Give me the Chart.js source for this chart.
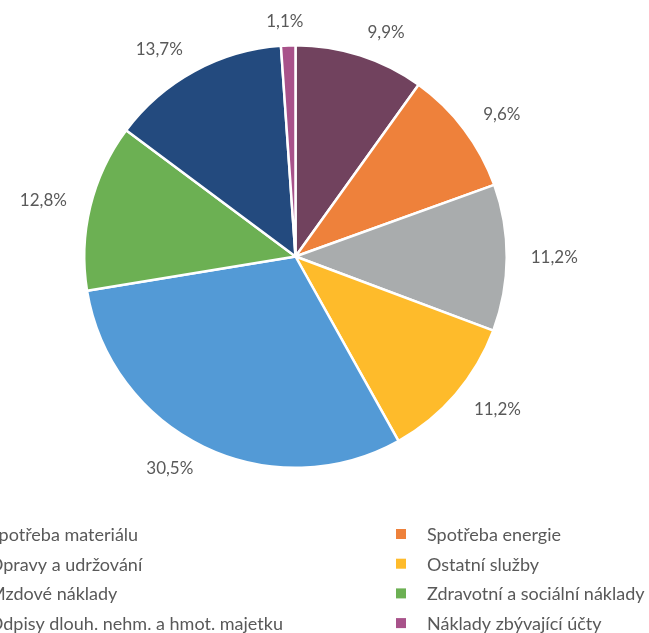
<!DOCTYPE html>
<html>
<head>
<meta charset="utf-8">
<script src="https://cdn.jsdelivr.net/npm/chart.js@4/dist/chart.umd.min.js"></script>
<style>
  html, body { margin: 0; padding: 0; background: #ffffff; overflow: hidden; }
  #wrap { position: absolute; left: 0; top: 0; width: 649px; height: 633px; }
</style>
</head>
<body>
<div id="wrap"><canvas id="c" width="649" height="633"></canvas></div>
<script>
const categories = [
  "Spotřeba materiálu",
  "Spotřeba energie",
  "Opravy a udržování",
  "Ostatní služby",
  "Mzdové náklady",
  "Zdravotní a sociální náklady",
  "Odpisy dlouh. nehm. a hmot. majetku",
  "Náklady zbývající účty"
];
const shares = [9.9, 9.6, 11.2, 11.2, 30.5, 12.8, 13.7, 1.1];
const sliceColors = ["#71425E", "#EE813B", "#A9ACAD", "#FEBB2B", "#539AD6", "#6CB053", "#234A7E", "#A8528A"];

const FONT = "Lato, 'Open Sans', sans-serif";
const TEXT_COLOR = "#595959";

const labelPlugin = {
  id: "outsideLabels",
  afterDatasetsDraw(chart) {
    const ctx = chart.ctx;
    const meta = chart.getDatasetMeta(0);
    ctx.save();
    ctx.font = "17px " + FONT;
    ctx.fillStyle = TEXT_COLOR;
    ctx.textBaseline = "middle";
    ctx.textAlign = "center";
    meta.data.forEach((arc, i) => {
      const p = arc.getProps(["x", "y", "startAngle", "endAngle", "outerRadius"], true);
      const mid = (p.startAngle + p.endAngle) / 2;
      const ux = Math.cos(mid), uy = Math.sin(mid);
      const r = p.outerRadius + 24;
      const txt = shares[i].toFixed(1).replace(".", ",") + "%";
      const w = ctx.measureText(txt).width;
      const k = Math.sign(ux) * Math.min(1, Math.abs(ux) * 4);
      const x = p.x + ux * r + k * w / 2;
      const y = p.y + uy * r;
      ctx.fillText(txt, x, y);
    });
    ctx.restore();
  }
};

const legendPlugin = {
  id: "gridLegend",
  afterDraw(chart) {
    const ctx = chart.ctx;
    const area = chart.chartArea;
    const cx = (area.left + area.right) / 2;
    const colX = [cx - 337.5, cx + 100.5];   // marker left edges
    const top = area.bottom + 65;
    const rowH = 29.7;
    ctx.save();
    ctx.font = "18px " + FONT;
    ctx.textBaseline = "middle";
    ctx.textAlign = "left";
    categories.forEach((name, i) => {
      const col = i % 2, row = Math.floor(i / 2);
      const mx = colX[col];
      const my = top + row * rowH;
      ctx.fillStyle = sliceColors[i];
      ctx.fillRect(mx, my - 5, 10, 10);
      ctx.fillStyle = TEXT_COLOR;
      ctx.fillText(name, mx + 31, my + 1);
    });
    ctx.restore();
  }
};

new Chart(document.getElementById("c"), {
  type: "pie",
  data: {
    labels: categories,
    datasets: [{
      data: shares,
      backgroundColor: sliceColors,
      borderColor: "#ffffff",
      borderWidth: 2.5
    }]
  },
  options: {
    responsive: false,
    animation: false,
    layout: { padding: { left: 83, right: 141, top: 44, bottom: 164 } },
    plugins: {
      legend: { display: false },
      tooltip: { enabled: false }
    }
  },
  plugins: [labelPlugin, legendPlugin]
});
</script>
</body>
</html>
